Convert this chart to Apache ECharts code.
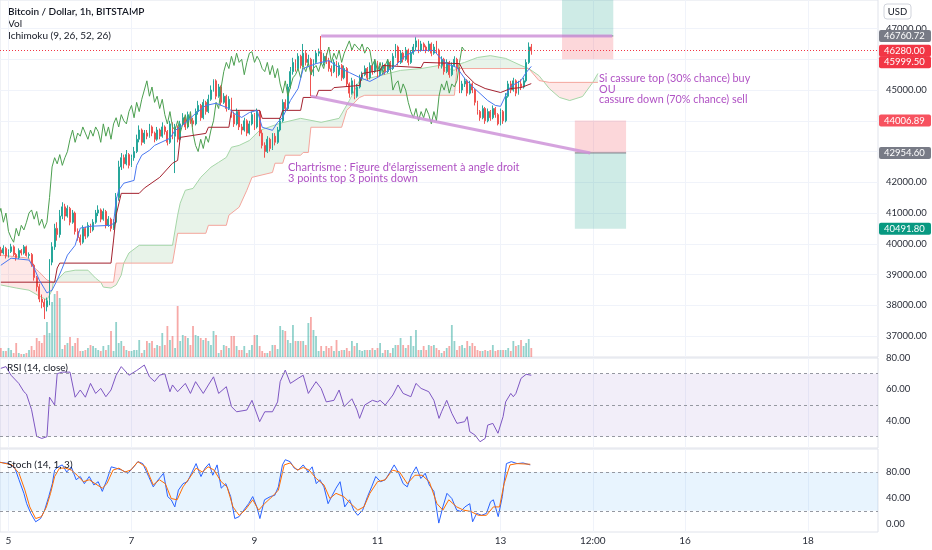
<!DOCTYPE html>
<html><head><meta charset="utf-8">
<script src="https://cdn.jsdelivr.net/npm/echarts@6/dist/echarts.min.js"></script>
<style>html,body{margin:0;padding:0;background:#fff}#c{width:932px;height:550px}</style>
</head><body><div id="c"></div>
<script>
// ---------- DATA (hours counted from Jan 5 00:00, 1h candles) ----------
const FIRST_HOUR = -3;
// [open, close, low, high]
const candles = [
[39800,39700,39600,39900],[39700,39850,39650,39950],[39850,39600,39520,39900],[39600,39750,39550,39820],
[39750,39900,39700,40000],[39900,39650,39600,39950],[39650,39550,39450,39700],[39550,39780,39500,39850],
[39780,39700,39620,39830],[39700,39900,39650,39960],[39900,39620,39580,39940],[39620,39650,39520,39720],
[39650,39300,39250,39700],[39300,38900,38800,39350],[38900,38600,38450,38950],[38600,38200,38100,38700],
[38200,38100,37900,38350],[38100,37950,37550,38200],[37950,38150,37800,38250],[38150,39400,38000,39500],
[39400,39900,39300,40050],[39900,40500,39800,40650],[40500,40300,40100,40700],[40300,40900,40200,41100],
[40900,41200,40800,41350],[41200,40900,40750,41300],[40900,41150,40850,41250],[41150,40700,40600,41200],
[40700,41000,40650,41100],[41000,40400,40300,41050],[40400,40200,40100,40500],[40200,40050,39950,40300],
[40050,40500,40000,40600],[40500,40250,40150,40550],[40250,40600,40200,40700],[40600,40450,40350,40650],
[40450,40700,40400,40800],[40700,41000,40650,41100],[41000,41100,40900,41250],[41100,40800,40700,41150],
[40800,41050,40750,41150],[41050,40600,40500,41100],[40600,40800,40550,40900],[40800,40500,40400,40850],
[40500,40700,40450,40800],[40700,41500,40650,41650],[41500,42500,41400,42700],[42500,42800,42400,42950],
[42800,42600,42450,42900],[42600,42900,42550,43050],[42900,42550,42450,42950],[42550,42800,42500,42900],
[42800,43000,42700,43150],[43000,43400,42950,43550],[43400,43700,43300,43850],[43700,43300,43200,43750],
[43300,43600,43250,43700],[43600,43500,43400,43700],[43500,43800,43450,43900],[43800,43600,43500,43850],
[43600,43400,43300,43650],[43400,43700,43350,43800],[43700,43500,43400,43750],[43500,43800,43450,43950],
[43800,43650,43550,43850],[43650,43300,43200,43700],[43300,43900,43250,44000],[43900,43500,43400,43950],
[43500,43800,42300,43900],[43800,43400,43300,43850],[43400,43900,43350,44000],[43900,44100,43850,44250],
[44100,43800,43700,44150],[43800,44200,43750,44300],[44200,44000,43900,44250],[44000,43900,43800,44100],
[43900,44300,43850,44400],[44300,44500,44200,44650],[44500,44100,44000,44550],[44100,44600,44050,44700],
[44600,44300,44200,44650],[44300,44700,44250,44850],[44700,45000,44650,45150],[45000,45300,44950,45350],
[45300,44800,44700,45350],[44800,45100,44750,45200],[45100,44600,44500,45150],[44600,44800,44550,44900],
[44800,44400,44300,44850],[44400,44700,44350,44800],[44700,44200,44100,44750],[44200,43900,43800,44300],
[43900,44300,43850,44400],[44300,43800,43700,44350],[43800,43700,43550,43900],[43700,44000,43650,44100],
[44000,43600,43500,44050],[43600,43900,43550,44000],[43900,44200,43850,44300],[44200,43800,43700,44250],
[43800,44300,43750,44400],[44300,43600,43500,44350],[43600,43200,43100,43700],[43200,43000,42800,43300],
[43000,43400,42950,43500],[43400,43100,43000,43450],[43100,43500,43050,43600],[43500,43300,43200,43600],
[43300,43700,43250,43800],[43700,44000,43650,44100],[44000,44600,43950,44700],[44600,44400,44300,44700],
[44400,45100,44350,45200],[45100,45600,45050,45750],[45600,45900,45500,46050],[45900,45700,45600,46000],
[45700,46100,45650,46200],[46100,45800,45700,46150],[45800,46200,45750,46500],[46200,45900,45800,46300],
[45900,46000,45800,46150],[46000,45500,44800,46050],[45500,45900,45450,46000],[45900,46200,45850,46300],
[46200,46250,46100,46350],[46250,45900,45800,46760],[45900,46100,45800,46200],[46100,45950,45850,46200],
[45950,45700,45600,46050],[45700,45600,45450,45800],[45600,45900,45550,46000],[45900,45500,45400,45950],
[45500,45800,45450,45900],[45800,45400,45300,45850],[45400,45700,45350,45800],[45700,45200,45100,45750],
[45200,44900,44750,45250],[44900,45300,44850,45400],[45300,44800,44700,45350],[44800,45100,44750,45200],
[45100,45400,45050,45500],[45400,45500,45300,45600],[45500,45700,45450,45800],[45700,45400,45300,45750],
[45400,45800,45350,45900],[45800,45600,45500,45850],[45600,45900,45550,46000],[45900,45500,45400,45950],
[45500,45700,45450,45800],[45700,45800,45600,45900],[45800,45600,45500,45850],[45600,45900,45550,46000],
[45900,45700,45600,45950],[45700,46100,45650,46200],[46100,46400,46050,46500],[46400,45900,45800,46450],
[45900,46200,45850,46300],[46200,46000,45900,46250],[46000,46300,45950,46400],[46300,45900,45800,46350],
[45900,46200,45850,46300],[46200,46400,46150,46500],[46400,46600,46300,46740],[46600,46300,46200,46650],
[46300,46500,46250,46600],[46500,46400,46300,46550],[46400,46300,46200,46450],[46300,46500,46250,46600],
[46500,46200,46100,46550],[46200,46400,46150,46500],[46400,46300,46200,46600],[46300,45800,45700,46350],
[45800,46000,45700,46100],[46000,45600,45500,46050],[45600,45900,45550,46000],[45900,45500,45400,45950],
[45500,45800,45450,45900],[45800,46000,45750,46100],[46000,45700,45600,46050],[45700,45000,44900,45750],
[45000,45200,44900,45300],[45200,45300,45100,45400],[45300,44900,44800,45350],[44900,45200,44850,45300],
[45200,45000,44900,45250],[45000,44600,44500,45050],[44600,44300,44200,44650],[44300,44100,44000,44350],
[44100,44400,44050,44500],[44400,44000,43900,44450],[44000,44300,43950,44400],[44300,44100,44000,44350],
[44100,44400,44050,44500],[44400,44200,44100,44450],[44200,43900,43850,44250],[43900,44300,43850,44400],
[44300,44000,43900,44350],[44000,44800,43950,44900],[44800,45200,44750,45300],[45200,45000,44900,45300],
[45000,45300,44950,45400],[45300,44900,44800,45350],[44900,45200,44850,45300],[45200,45100,45000,45350],
[45100,45300,45050,45400],[45300,45900,45250,46000],[45900,46400,45850,46550],[46400,46280,46150,46500]
];
// volume (relative units), one per candle
const volume = [
9,6,6,9,7,4,14,4,3,3, 4,7,11,7,19,16,14,22,35,24, 55,63,66,59,8,12,14,20,11,14,
19,6,6,7,9,12,11,9,7,6, 11,7,12,26,6,35,14,16,11,7, 6,6,7,7,17,4,7,16,14,16,
9,12,11,24,12,31,17,21,9,51, 16,22,21,19,12,31,22,21,19,17, 19,16,12,26,22,4,7,12,11,9,
21,21,11,7,7,11,4,7,12,22, 22,11,6,4,4,6,12,12,8,31, 27,26,17,14,32,16,16,16,16,12,
34,40,27,21,6,11,6,11,9,11, 6,17,6,7,7,9,6,16,11,14, 7,6,7,7,7,9,7,9,14,4,
7,7,4,9,12,12,19,12,9,12, 21,11,27,7,7,11,7,12,11,12, 9,7,4,6,9,11,32,16,7,11,
12,9,16,11,14,11,7,6,6,7, 6,7,12,6,7,7,7,7,9,6, 16,11,12,17,11,14,18,9
];
const tenkan = [[-3,39300],[1,39530],[8,39470],[10,39210],[12,38820],[15,38400],[17,38490],[19,38820],[21,39210],
[23,39630],[26,39950],[28,40510],[32,40570],[40,40600],[41,40670],[42,41420],[43,41740],[45,41970],[49,42060],
[50,42550],[52,42880],[55,43040],[57,43200],[63,43430],[65,43690],[67,43790],[70,44010],[73,44240],[77,44500],
[81,44570],[86,44400],[88,44240],[91,44110],[94,44270],[97,44340],[99,43790],[103,43690],[105,43950],[107,44110],
[110,44660],[113,45050],[115,45700],[120,45860],[125,45960],[129,45730],[133,45570],[137,45410],[141,45280],
[144,45410],[147,45570],[151,45800],[155,46120],[159,46290],[166,46290],[168,46090],[171,45860],[175,45730],
[178,45380],[181,45120],[184,44890],[187,44660],[190,44500],[192,44470],[194,44820],[196,45120],[200,45310],
[202,45570],[204,45770]];
const kijun = [[-3,38750],[18,38750],[19,39210],[20,39370],[40,39370],[41,40120],[42,40930],[44,41640],[51,41640],
[53,41810],[59,42160],[64,42620],[66,42710],[67,43460],[77,43590],[78,43790],[86,43790],[87,44340],[98,44340],
[99,44080],[106,44080],[107,44340],[114,44340],[115,44760],[120,44760],[121,44990],[126,44990],[127,45080],
[137,45150],[138,45540],[145,45640],[146,45800],[161,45730],[162,45900],[176,45860],[178,45540],[182,45210],
[186,45050],[192,44920],[196,45050],[200,45080],[204,45210]];
const senkouA = [[-3,38660],[3,38560],[8,38490],[12,38300],[15,38170],[17,38490],[17.5,38750],[19,38820],[22,39080],
[26,39140],[31,39140],[34,38880],[36,38750],[37,38590],[40,38560],[42,38660],[44,38980],[45,39370],[47,39700],
[51,39950],[64,39950],[66,40930],[67,41320],[69,41740],[72,41800],[75,42160],[79,42490],[82,42650],[85,42810],
[87,43140],[90,43200],[94,43360],[98,43690],[106,43920],[114,44080],[122,43950],[129,44080],[133,44660],
[137,45310],[145,45470],[153,45640],[161,45700],[168,45800],[174,45640],[176,45850],[178,45900],[183,46060],
[188,46120],[194,46030],[200,45800],[203,45700],[207,45470],[211,45050],[215,44760],[219,44660],[224,44790],
[228,45250],[230,45540]];
const senkouB = [[-3,39630],[8,39530],[9,39300],[12,39080],[15,38820],[17.5,38750],[36,38750],[41,38750],[42,39370],
[45,39370],[64,39370],[66,40340],[77,40340],[78,40600],[85,40600],[86,40930],[90,41190],[93,41740],[95,42160],
[103,42320],[104,42620],[107,42620],[108,42880],[114,42880],[115,42970],[117,42970],[118,43790],[130,43790],
[132,44340],[137,44760],[139,44830],[174,44830],[175,45700],[203,45700],[207,45310],[211,45250],[228,45250],
[230,45250]];
// cloud segments [fromHour, toHour, A above B?]
const cloudSegments = [[-3,17.5,false],[17.5,36,true],[36,45,false],[45,203,true],[203,228,false],[228,230,true]];
const rsi = [[-3,73.4],[-1,74.5],[1,69],[4,63.8],[6,58.5],[7,57],[9,47],[11,30],[13,28.7],[15,29.8],[16,55],[18,50],
[19,70],[21,71],[24,71],[26,55],[28,59.6],[30,55],[32,63.8],[34,57.4],[36,60.6],[38,55.3],[40,59.6],[42,69],[44,74.5],
[47,69],[50,72],[53,75.5],[55,68],[57,65],[59,69],[61,70],[63,58.5],[64,62.8],[66,58.5],[69,63.8],[71,57.4],[73,64.9],
[76,57.4],[78,62.8],[80,68],[82,57.4],[85,61.7],[87,49],[89,45.7],[93,46.8],[95,53],[98,39.4],[100,45.7],[103,45.7],
[105,52],[106,64.9],[108,72.3],[110,63.8],[113,67],[115,69],[117,57.4],[120,64.9],[122,60.6],[124,52],[127,53],
[129,59.6],[131,49],[134,54],[136,46.8],[137,41.5],[139,50],[142,53],[144,52],[145,53],[147,50],[150,56.4],[152,62.8],
[154,57.4],[157,55.3],[159,63.8],[161,60.6],[164,58.5],[166,53],[168,41.5],[169,45.7],[171,53],[173,44.7],[175,38.3],
[178,39.4],[179,42.6],[180,33],[182,30.9],[184,26.6],[186,28.7],[187,37.2],[189,38.3],[191,32],[193,42.6],[194,52],
[196,57.4],[197,55.3],[198,57.4],[200,67],[202,69.6],[204,69]];
const stochK = [[-3.3,95],[0.2,93],[2.5,86],[4.1,68],[6,47],[7.1,31],[8.7,16],[10.6,3],[12.5,8],[14.1,21],[15.7,42],
[17.1,62],[18,83],[19.4,88],[21,91],[22.7,80],[24.5,88],[26.4,68],[28,73],[29.6,62],[31.5,73],[33.3,60],[35,65],
[36.6,50],[38.4,68],[40.1,88],[41.9,86],[44.2,83],[46.6,78],[48.9,88],[50.5,96],[52.4,93],[54.7,73],[56.5,57],
[58.4,68],[60.5,78],[62.1,42],[63.5,37],[64.9,26],[66.3,52],[68.1,62],[69.8,65],[71.4,78],[73.2,93],[75.1,73],
[76.7,86],[78.3,93],[79.7,75],[81.4,91],[83,55],[84.8,62],[86.7,42],[88.3,8],[90,11],[91.8,21],[93.7,31],[95.3,42],
[96.9,26],[98.1,8],[99.9,37],[102.2,42],[103.9,44],[105.3,57],[106.9,91],[108,99],[109.9,96],[111.5,86],[113.1,83],
[115,91],[116.9,80],[118.5,88],[120.1,62],[121.5,68],[123.1,57],[124.7,31],[126.1,42],[127.8,55],[129.4,65],
[131.2,26],[133.1,37],[134.7,21],[136.3,13],[138.2,21],[140.1,42],[141.7,57],[143.3,73],[145.2,65],[147,68],
[148.6,78],[150.5,91],[152.1,80],[154,62],[155.6,57],[157.2,75],[159.1,88],[160.9,70],[162.6,78],[164.2,60],
[166,50],[167.9,1],[169.5,26],[171.1,47],[173,39],[174.9,21],[176.5,19],[178.1,26],[180,31],[181.1,3],[182.7,16],
[184.6,13],[186.5,16],[188.1,34],[189.2,37],[191.1,11],[192.7,42],[194.3,93],[196.2,96],[198.5,93],[200.8,94],
[203.6,91]];
const stochD = [[-3.3,95],[1.3,91],[4.1,78],[6.4,52],[8.3,26],[10.6,8],[12.9,11],[14.8,26],[16.4,47],[18,73],
[19.9,86],[22.2,86],[24.5,83],[26.8,75],[29.2,65],[31.5,68],[33.8,62],[36.6,55],[38.4,62],[40.8,83],[43.1,86],
[45.4,80],[47.7,83],[50.5,96],[53.5,88],[56.5,60],[58.9,68],[61.2,62],[63.5,39],[65.8,37],[68.1,57],[70.5,70],
[73.2,86],[75.6,80],[77.9,88],[80.2,83],[83,65],[85.3,57],[87.6,26],[90,13],[92.3,21],[95.3,37],[97.6,21],
[99.9,31],[102.9,42],[105.3,52],[107.6,91],[109.9,94],[112.7,83],[115,87],[117.3,83],[120.1,70],[123.1,60],
[125.4,39],[127.8,47],[130.8,42],[133.6,31],[136.3,21],[138.7,26],[141,47],[144,65],[147,68],[149.8,83],
[152.6,80],[155.6,62],[158.6,75],[161.4,75],[164.2,65],[167.2,31],[169.5,21],[171.8,37],[174.9,26],[177.6,21],
[180.4,19],[183.4,13],[186.5,13],[189.2,26],[191.6,26],[193.4,62],[195.7,91],[198.5,93],[203.6,92]];
const priceTicks = [37000,38000,39000,40000,41000,42000,43000,44000,45000,46000,47000];
const rsiTicks = [40,60,80];
const stochTicks = [0,40,80];
const xTickHours = [0,48,96,144,192,228,264,312];
const xTickLabels = ['5','7','9','11','13','12:00','16','18'];
const lastPrice = 46280;
const resistanceLine = [[122,46760.72],[235.5,46760.72]];
const supportLine = [[118,44800],[227,42954.6]];
const longPos = {from:216, to:236, entry:46760.72, stop:45999.50};
const shortPos = {from:221, to:241, entry:42954.60, stop:44006.89, target:40491.80};
const badgeValues = [46760.72, 46280.00, 45999.50, 44006.89, 42954.60, 40491.80];

// ---------- STYLE / LAYOUT ----------
const X_MIN = -3.32, X_MAX = 339.3;
const P_MIN = 36316, P_MAX = 47930;
const badgeColors = ['#787b86','#f23645','#f23645','#f7525f','#787b86','#089981'];
const badgeShiftPx = [0, 0, 3, 0, 0, 0]; // label collision avoidance, as on the reference
const UP = '#26a69a', DOWN = '#ef5350';
const FONT = 'Lato, "Liberation Sans", sans-serif';
const AXIS_TXT = '#2a2e39';
const GRIDC = '#f0f3fa';
const VIOLET_TXT = '#b052c4';
const DRAW = 'rgba(206,147,216,0.85)';

const chikou = candles.map((r, i) => [FIRST_HOUR + i - 26, r[1]]);
const candleData = candles.map((r, i) => [FIRST_HOUR + i, r[0], r[1], r[2], r[3]]);
const volData = volume.map((v, i) => [FIRST_HOUR + i, v]);

function xAxisFor(gridIndex, showLabels) {
  return {
    type: 'value', gridIndex, min: X_MIN, max: X_MAX,
    axisLine: {show: false},
    axisTick: {show: false, customValues: xTickHours},
    splitLine: {show: true, lineStyle: {color: GRIDC, width: 1}},
    axisLabel: showLabels ? {
      show: true, customValues: xTickHours, margin: 4,
      color: AXIS_TXT, fontSize: 10, fontFamily: FONT,
      formatter: v => xTickLabels[xTickHours.indexOf(v)]
    } : {show: false}
  };
}
function yLabelAxis(gridIndex, min, max, ticks, showSplit) {
  return {
    type: 'value', gridIndex, position: 'right', min, max,
    axisLine: {show: false},
    axisTick: {show: false, customValues: ticks},
    splitLine: {show: showSplit, lineStyle: {color: GRIDC}},
    axisLabel: {customValues: ticks, formatter: v => v.toFixed(2), color: AXIS_TXT,
      fontSize: 9.5, fontFamily: FONT, margin: 8}
  };
}
const lineS = (name, data, color, extra) => Object.assign({
  name, type: 'line', data, xAxisIndex: 0, yAxisIndex: 0, showSymbol: false, symbol: 'none',
  lineStyle: {color, width: 1}, silent: true, z: 4
}, extra || {});

const chart = echarts.init(document.getElementById('c'), null, {renderer: 'canvas'});
const gridStyle = {show: true, borderColor: '#e0e3eb', borderWidth: 1, backgroundColor: 'transparent'};

chart.setOption({
  animation: false,
  backgroundColor: '#ffffff',
  textStyle: {fontFamily: FONT},
  grid: [
    Object.assign({left: 0, right: 54, top: 0, height: 357}, gridStyle),
    Object.assign({left: 0, right: 54, top: 358, height: 90}, gridStyle),
    Object.assign({left: 0, right: 54, top: 449, height: 83}, gridStyle)
  ],
  xAxis: [xAxisFor(0, false), xAxisFor(1, false), xAxisFor(2, true)],
  yAxis: [
    yLabelAxis(0, P_MIN, P_MAX, priceTicks, true),
    {type: 'value', gridIndex: 0, min: 0, max: 357, show: false, splitLine: {show: false}},
    yLabelAxis(1, 22.6, 80.0, rsiTicks, false),
    yLabelAxis(2, -12.8, 115.6, stochTicks, false)
  ],
  graphic: [
    {type: 'text', x: 8, y: 12, style: {text: 'Bitcoin / Dollar, 1h, BITSTAMP', fill: '#131722', font: '600 10px ' + FONT, verticalAlign: 'middle'}},
    {type: 'text', x: 8, y: 24, style: {text: 'Vol', fill: '#131722', font: '10px ' + FONT, verticalAlign: 'middle'}},
    {type: 'text', x: 8, y: 36, style: {text: 'Ichimoku (9, 26, 52, 26)', fill: '#131722', font: '10px ' + FONT, verticalAlign: 'middle'}},
    {type: 'text', x: 7, y: 368, style: {text: 'RSI (14, close)', fill: '#131722', font: '10px ' + FONT, verticalAlign: 'middle'}, z: 10},
    {type: 'text', x: 7, y: 465, style: {text: 'Stoch (14, 1, 3)', fill: '#131722', font: '10px ' + FONT, verticalAlign: 'middle'}, z: 10},
    {type: 'rect', shape: {x: 884, y: 4, width: 27, height: 15, r: 3}, style: {fill: '#fff', stroke: '#d1d4dc', lineWidth: 1}, z: 10},
    {type: 'text', x: 897.5, y: 12, style: {text: 'USD', fill: '#131722', font: '9.5px ' + FONT, align: 'center', verticalAlign: 'middle'}, z: 11},
    {type: 'text', x: 599, y: 79, style: {text: 'Si cassure top (30% chance) buy', fill: VIOLET_TXT, font: '10.8px ' + FONT, verticalAlign: 'middle'}, z: 10},
    {type: 'text', x: 599, y: 90, style: {text: 'OU', fill: VIOLET_TXT, font: '10.8px ' + FONT, verticalAlign: 'middle'}, z: 10},
    {type: 'text', x: 599, y: 100, style: {text: 'cassure down (70% chance) sell', fill: VIOLET_TXT, font: '10.8px ' + FONT, verticalAlign: 'middle'}, z: 10},
    {type: 'text', x: 288, y: 167, style: {text: "Chartrisme : Figure d'élargissement à angle droit", fill: VIOLET_TXT, font: '11px ' + FONT, verticalAlign: 'middle'}, z: 10},
    {type: 'text', x: 288, y: 178, style: {text: '3 points top 3 points down', fill: VIOLET_TXT, font: '11px ' + FONT, verticalAlign: 'middle'}, z: 10}
  ],
  series: [
    // Ichimoku cloud fill
    {
      type: 'custom', xAxisIndex: 0, yAxisIndex: 0, silent: true, z: 1,
      data: cloudSegments.map(s => [s[0], s[1]]),
      encode: {x: [0, 1]},
      renderItem: (params, api) => {
        const seg = cloudSegments[params.dataIndex];
        const a = senkouA.filter(p => p[0] >= seg[0] && p[0] <= seg[1]).map(p => api.coord(p));
        const b = senkouB.filter(p => p[0] >= seg[0] && p[0] <= seg[1]).reverse().map(p => api.coord(p));
        return {type: 'polygon', shape: {points: a.concat(b)},
          style: {fill: seg[2] ? 'rgba(67,160,71,0.12)' : 'rgba(244,67,54,0.12)', stroke: 'none'}};
      }
    },
    lineS('Senkou A', senkouA, '#a5d6a7', {z: 2}),
    lineS('Senkou B', senkouB, '#f4a59c', {z: 2}),
    // Volume
    {
      type: 'bar', xAxisIndex: 0, yAxisIndex: 1, data: volData, barWidth: 1.8, silent: true, z: 2,
      itemStyle: {color: p => (candles[p.dataIndex][1] >= candles[p.dataIndex][0] ? 'rgba(38,166,154,0.5)' : 'rgba(239,83,80,0.5)')}
    },
    // Candles
    {
      type: 'candlestick', xAxisIndex: 0, yAxisIndex: 0, data: candleData,
      encode: {x: 0, y: [1, 2, 3, 4]}, barWidth: 1.4, silent: true, z: 3,
      itemStyle: {color: UP, color0: DOWN, borderColor: UP, borderColor0: DOWN, borderWidth: 1},
      markLine: {
        silent: true, symbol: ['none', 'none'], label: {show: false},
        lineStyle: {color: '#f23645', type: [1, 2], width: 1},
        data: [{yAxis: lastPrice}]
      }
    },
    lineS('Chikou', chikou, '#4c9f50'),
    lineS('Kijun', kijun, '#a3212e'),
    lineS('Tenkan', tenkan, '#4a78f0'),
    // drawings
    lineS('Resistance', resistanceLine, DRAW, {lineStyle: {color: DRAW, width: 3}, z: 6}),
    lineS('Support', supportLine, DRAW, {lineStyle: {color: DRAW, width: 3}, z: 6,
      markArea: {
        silent: true,
        data: [
          [{coord: [longPos.from, longPos.entry], itemStyle: {color: 'rgba(8,153,129,0.2)'}}, {coord: [longPos.to, P_MAX]}],
          [{coord: [longPos.from, longPos.stop], itemStyle: {color: 'rgba(242,54,69,0.2)'}}, {coord: [longPos.to, longPos.entry]}],
          [{coord: [shortPos.from, shortPos.entry], itemStyle: {color: 'rgba(242,54,69,0.2)'}}, {coord: [shortPos.to, shortPos.stop]}],
          [{coord: [shortPos.from, shortPos.target], itemStyle: {color: 'rgba(8,153,129,0.2)'}}, {coord: [shortPos.to, shortPos.entry]}]
        ]
      }
    }),
    lineS('Long entry', [[longPos.from, longPos.entry], [longPos.to, longPos.entry]], '#787b86', {z: 5}),
    lineS('Short entry', [[shortPos.from, shortPos.entry], [shortPos.to, shortPos.entry]], '#787b86', {z: 5}),
    // price badges on the right scale
    {
      type: 'custom', xAxisIndex: 0, yAxisIndex: 0, clip: false, silent: true, z: 20,
      data: badgeValues.map(v => [X_MAX, v]), encode: {x: 0, y: 1},
      renderItem: (params, api) => {
        const pt = api.coord([api.value(0), api.value(1)]);
        const y = pt[1] + badgeShiftPx[params.dataIndex];
        return {type: 'group', children: [
          {type: 'rect', shape: {x: pt[0] + 1, y: y - 6, width: 52, height: 12, r: 2},
            style: {fill: badgeColors[params.dataIndex]}},
          {type: 'text', style: {x: pt[0] + 6, y: y, text: api.value(1).toFixed(2), fill: '#fff',
            font: '9.5px ' + FONT, verticalAlign: 'middle'}}
        ]};
      }
    },
    // RSI
    {
      type: 'line', xAxisIndex: 1, yAxisIndex: 2, data: rsi, showSymbol: false, symbol: 'none', silent: true,
      lineStyle: {color: '#7e57c2', width: 1}, z: 4,
      markArea: {silent: true, itemStyle: {color: 'rgba(126,87,194,0.1)'}, data: [[{yAxis: 30}, {yAxis: 70}]]},
      markLine: {silent: true, symbol: ['none', 'none'], label: {show: false},
        lineStyle: {color: '#9598a1', type: [3, 3], width: 1}, data: [{yAxis: 30}, {yAxis: 50}, {yAxis: 70}]}
    },
    // Stoch
    {
      type: 'line', xAxisIndex: 2, yAxisIndex: 3, data: stochK, showSymbol: false, symbol: 'none', silent: true,
      lineStyle: {color: '#2962ff', width: 1}, z: 4,
      markArea: {silent: true, itemStyle: {color: 'rgba(33,150,243,0.1)'}, data: [[{yAxis: 20}, {yAxis: 80}]]},
      markLine: {silent: true, symbol: ['none', 'none'], label: {show: false},
        lineStyle: {color: '#9598a1', type: [3, 3], width: 1}, data: [{yAxis: 20}, {yAxis: 80}]}
    },
    {
      type: 'line', xAxisIndex: 2, yAxisIndex: 3, data: stochD, showSymbol: false, symbol: 'none', silent: true,
      lineStyle: {color: '#ff6d00', width: 1}, z: 4
    }
  ]
});
</script></body></html>
